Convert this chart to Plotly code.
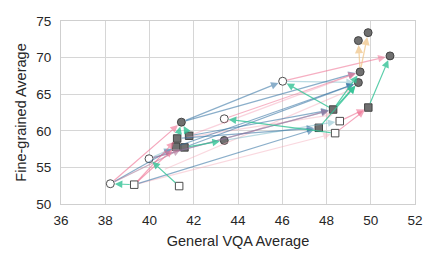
import plotly.graph_objects as go

# ---- marker data ----
filled_circle_x = [49.44, 49.88, 50.87, 49.52, 49.44, 41.44, 43.38]
filled_circle_y = [72.32, 73.41, 70.23, 68.05, 66.59, 61.18, 58.68]
filled_square_x = [48.30, 47.65, 49.89, 41.25, 41.79, 41.19, 41.58]
filled_square_y = [62.91, 60.41, 63.18, 58.95, 59.32, 57.82, 57.73]
open_circle_x = [46.02, 43.38, 39.98, 38.23]
open_circle_y = [66.77, 61.64, 56.18, 52.77]
open_square_x = [39.31, 41.34, 48.60, 48.39]
open_square_y = [52.64, 52.45, 61.32, 59.68]

# ---- arrow data (start x, start y, end x, end y) per group ----
pink_x0 = [38.23, 39.31, 39.31, 46.02, 43.38, 48.60, 48.39, 39.98, 41.79, 38.23]
pink_y0 = [52.77, 52.64, 52.64, 66.77, 61.64, 61.32, 59.68, 56.18, 59.32, 52.77]
pink_x1 = [41.44, 41.19, 41.25, 50.87, 49.52, 49.89, 49.89, 48.30, 49.52, 41.58]
pink_y1 = [61.18, 57.82, 58.95, 70.23, 68.05, 63.18, 63.18, 62.91, 68.05, 57.73]
pink_a = [0.6, 0.6, 0.6, 0.55, 0.5, 0.6, 0.6, 0.35, 0.3, 0.4]

lpink_x0 = [39.31, 40.5, 41.5]
lpink_y0 = [52.64, 54.5, 59.0]
lpink_x1 = [48.39, 49.4, 48.5]
lpink_y1 = [59.68, 66.0, 62.3]

blue_x0 = [39.31, 38.23, 39.98, 41.44, 41.44, 41.79, 41.25, 41.19, 41.58]
blue_y0 = [52.64, 52.77, 56.18, 61.18, 61.18, 59.32, 58.95, 57.82, 57.73]
blue_x1 = [47.65, 41.19, 48.30, 49.52, 46.02, 48.30, 47.65, 49.44, 49.44]
blue_y1 = [60.41, 57.82, 62.91, 68.05, 66.77, 62.91, 60.41, 66.59, 66.59]

lteal_x0 = [38.23, 39.98, 46.02, 43.38]
lteal_y0 = [52.77, 56.18, 66.77, 58.68]
lteal_x1 = [41.58, 41.19, 49.44, 48.60]
lteal_y1 = [57.73, 57.82, 66.59, 61.32]

green_x0 = [49.89, 48.30, 48.39, 39.31, 41.34, 41.25, 41.79, 41.58, 48.30, 48.30, 47.65]
green_y0 = [63.18, 62.91, 59.68, 52.64, 52.45, 58.95, 59.32, 57.73, 62.91, 62.91, 60.41]
green_x1 = [50.87, 46.02, 43.38, 38.23, 39.98, 41.44, 41.44, 43.38, 49.52, 49.44, 49.44]
green_y1 = [70.23, 66.77, 61.64, 52.77, 56.18, 61.18, 61.18, 58.68, 68.05, 66.59, 66.59]

tan_x0 = [49.52, 49.52]
tan_y0 = [68.05, 68.05]
tan_x1 = [49.44, 49.88]
tan_y1 = [72.32, 73.41]

x_ticks = [36, 38, 40, 42, 44, 46, 48, 50, 52]
y_ticks = [50, 55, 60, 65, 70, 75]

FONT = "Liberation Sans, Arial, sans-serif"

fig = go.Figure()

annotations = []


def add_arrows(x0, y0, x1, y1, color, alphas, width=1.2):
    for i in range(len(x0)):
        a = alphas[i] if isinstance(alphas, list) else alphas
        annotations.append(dict(
            x=x1[i], y=y1[i], ax=x0[i], ay=y0[i],
            xref="x", yref="y", axref="x", ayref="y",
            text="", showarrow=True, arrowhead=2, arrowsize=1.25,
            arrowwidth=width, arrowcolor=f"rgba({color},{a})",
            standoff=4.5, startstandoff=3,
        ))


add_arrows(lpink_x0, lpink_y0, lpink_x1, lpink_y1, "245,170,185", 0.45)
add_arrows(lteal_x0, lteal_y0, lteal_x1, lteal_y1, "120,185,200", 0.5)
add_arrows(blue_x0, blue_y0, blue_x1, blue_y1, "45,110,160", 0.55)
add_arrows(pink_x0, pink_y0, pink_x1, pink_y1, "240,110,145", pink_a)
add_arrows(tan_x0, tan_y0, tan_x1, tan_y1, "240,195,130", 0.7, 1.3)
add_arrows(green_x0, green_y0, green_x1, green_y1, "50,195,150", 0.8, 1.2)

mk_line = dict(color="#3a3a3a", width=0.9)
fig.add_trace(go.Scatter(x=filled_circle_x, y=filled_circle_y, mode="markers",
                         marker=dict(symbol="circle", size=8, color="#707070", line=mk_line)))
fig.add_trace(go.Scatter(x=filled_square_x, y=filled_square_y, mode="markers",
                         marker=dict(symbol="square", size=7.5, color="#707070", line=mk_line)))
fig.add_trace(go.Scatter(x=open_circle_x, y=open_circle_y, mode="markers",
                         marker=dict(symbol="circle", size=8, color="white", line=mk_line)))
fig.add_trace(go.Scatter(x=open_square_x, y=open_square_y, mode="markers",
                         marker=dict(symbol="square", size=7.5, color="white", line=mk_line)))

axis_common = dict(
    showgrid=True, gridcolor="#d6d6d6", gridwidth=1.2,
    showline=True, linecolor="#cfcfcf", linewidth=1.2, mirror=True,
    zeroline=False, ticks="", automargin=False,
    tickfont=dict(size=13.5, color="#262626", family=FONT),
)

# page body has an 8px default margin, so the figure is sized to fit the window
fig.update_layout(
    width=431, height=255,
    margin=dict(l=53, r=24, t=13, b=59),
    paper_bgcolor="white", plot_bgcolor="white",
    showlegend=False,
    font=dict(family=FONT, color="#262626"),
    annotations=annotations,
    xaxis=dict(range=[36, 52], tickvals=x_ticks, ticktext=[str(v) for v in x_ticks],
               ticklabelstandoff=4,
               title=dict(text="General VQA Average", font=dict(size=14.5, color="#262626"), standoff=8),
               **axis_common),
    yaxis=dict(range=[50, 75], tickvals=y_ticks, ticktext=[str(v) for v in y_ticks],
               ticklabelstandoff=6,
               title=dict(text="Fine-grained Average", font=dict(size=14.5, color="#262626"), standoff=6),
               **axis_common),
)

fig.write_html("out.html")
